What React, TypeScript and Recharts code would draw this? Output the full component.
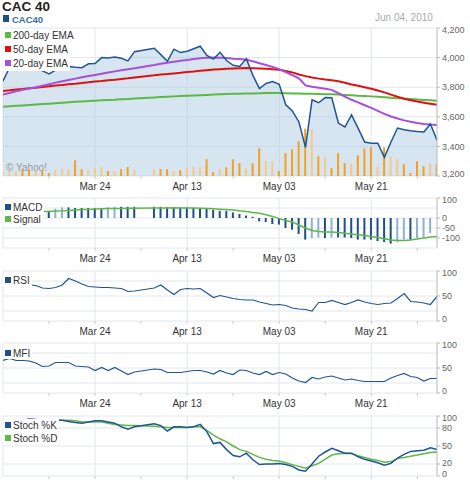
import React from 'react';
import { ComposedChart, Line, Area, Bar, XAxis, YAxis, CartesianGrid, Cell } from 'recharts';

const FONT = '"Liberation Sans", Arial, Helvetica, sans-serif';

// ---- data (one point per weekday, Mar 04 .. Jun 04 2010; holidays null) ----
const price = [3840, 3935, 3945, 3935, 3925, 3930, 3910, 3890, 3915, 3930,
  3940, 3935, 3932, 3958, 3960, 4000, 3998, 4004, 3995, 3978,
  4040, null, null, 4063, 4020, 3975, 4057, 4034, 4043, 4060,
  4077, 4015, 3990, 4036, 3980, 3948, 3940, 3993, 3880, 3790,
  3825, 3838, 3820, 3681, 3640, 3565, 3394, 3715, 3695, 3730,
  3729, 3558, 3531, 3613, 3524, 3430, 3422, 3422, 3326, 3430,
  3524, 3512, 3505, 3500, 3497, 3551, 3442];
const ema200 = [3668, 3671, 3674, 3677, 3680, 3683, 3686, 3689, 3692, 3695,
  3698, 3701, 3704, 3706, 3709, 3711, 3714, 3716, 3719, 3721,
  3724, null, null, 3731, 3734, 3736, 3738, 3740, 3742, 3744,
  3746, 3748, 3750, 3752, 3754, 3755, 3756, 3757, 3758, 3759,
  3760, 3760, 3760, 3759, 3758, 3757, 3755, 3755, 3754, 3753,
  3752, 3750, 3748, 3746, 3743, 3741, 3738, 3735, 3732, 3729,
  3726, 3723, 3720, 3717, 3714, 3711, 3708];
const ema50 = [3775, 3779, 3784, 3788, 3793, 3797, 3802, 3806, 3811, 3815,
  3820, 3824, 3829, 3833, 3838, 3842, 3847, 3851, 3856, 3860,
  3865, null, null, 3880, 3886, 3889, 3893, 3897, 3902, 3906,
  3911, 3915, 3919, 3922, 3925, 3927, 3928, 3929, 3928, 3926,
  3924, 3921, 3918, 3910, 3900, 3886, 3875, 3865, 3858, 3852,
  3847, 3840, 3830, 3818, 3810, 3800, 3790, 3778, 3765, 3750,
  3735, 3722, 3712, 3703, 3695, 3688, 3681];
const ema20 = [3750, 3761, 3772, 3782, 3791, 3800, 3810, 3820, 3831, 3840,
  3849, 3858, 3867, 3875, 3883, 3891, 3899, 3907, 3914, 3921,
  3928, null, null, 3950, 3959, 3965, 3972, 3978, 3984, 3990,
  3996, 3999, 4000, 3999, 3997, 3993, 3990, 3985, 3975, 3962,
  3950, 3937, 3922, 3902, 3882, 3860, 3812, 3803, 3797, 3790,
  3782, 3760, 3737, 3715, 3697, 3678, 3660, 3640, 3620, 3602,
  3588, 3576, 3566, 3558, 3552, 3548, 3545];
const volume = [20, 20, 20, 28, 24, 24, 24, 12, 24, 28,
  28, 64, 28, 24, 32, 36, 20, 20, 28, 36,
  24, null, null, 28, 28, 28, 20, 24, 32, 36,
  36, 68, 16, 28, 36, 68, 52, 32, 52, 112,
  60, 60, 20, 92, 108, 140, 192, 188, 80, 76,
  32, 92, 52, 48, 84, 112, 116, 36, 116, 80,
  68, 48, 12, 60, 40, 52, 48];
const macd = [null, null, null, null, null, null, null, 36, 46, 53,
  53, 50, 50, 50, 50, 50, 53, 56, 56, 56,
  56, null, null, 56, 56, 53, 53, 53, 53, 50,
  50, 46, 41, 36, 36, 28, 20, 12, 6, -17,
  -20, -30, -33, -50, -58, -80, -108, -100, -97, -100,
  -97, -97, -97, -100, -108, -108, -108, -115, -120, -128,
  -120, -108, -108, -100, -96, -75, null];
const signal = [28, 28, 29, 30, 30, 31, 32, 33, 35, 36,
  38, 40, 42, 43, 45, 46, 47, 48, 48, 49,
  49, null, null, 50, 50, 50, 51, 50, 50, 50,
  49, 48, 46, 44, 42, 40, 36, 33, 28, 24,
  16, 8, -3, -12, -20, -35, -50, -62, -68, -70,
  -70, -72, -76, -80, -84, -88, -92, -98, -104, -110,
  -112, -112, -110, -105, -100, -95, -92];
const rsi = [76, 75, 74, 73, 72, 71, 66, 65, 67, 72,
  85, 80, 74, 69, 68, 67, 67, 66, 65, 59,
  60, null, null, 66, 72, 62, 53, 63, 65, 64,
  65, 56, 47, 51, 48, 45, 43, 42, 42, 38,
  35, 32, 33, 31, 26, 24, 23, 20, 37, 37,
  41, 37, 33, 37, 42, 38, 35, 33, 35, 36,
  45, 55, 39, 38, 36, 33, 49];
const mfi = [65, 69, 65, 65, 64, 60, 53, 54, 61, 61,
  61, 54, 53, 52, 45, 51, 45, 51, 44, 37,
  42, null, null, 48, 47, 41, 41, 41, 43, 45,
  45, 42, 38, 45, 40, 37, 46, 45, 40, 37,
  43, 37, 41, 38, 30, 24, 21, 31, 28, 32,
  34, 30, 26, 28, 25, 23, 23, 23, 23, 30,
  35, 39, 33, 31, 24, 29, 29];
const stochK = [86, 90, 92, 93, 95, 94, 93, 93, 93, 93,
  91, 89, 88, 90, 92, 92, 90, 88, 82, 78,
  82, null, null, 87, 84, 75, 82, 82, 81, 82,
  86, 74, 54, 56, 44, 34, 32, 38, 27, 19,
  20, 20, 21, 19, 16, 10, 8, 20, 33, 40,
  46, 42, 38, 38, 32, 28, 25, 22, 18, 21,
  30, 36, 41, 42, 43, 47, 44];
const stochD = [84, 85, 88, 91, 93, 93, 93, 93, 93, 93,
  93, 92, 90, 90, 90, 90, 88, 86, 85, 84,
  84, null, null, 83, 82, 81, 81, 81, 81, 82,
  82, 76, 68, 62, 57, 50, 44, 41, 36, 31,
  28, 26, 25, 22, 19, 16, 13, 17, 21, 28,
  35, 37, 38, 37, 34, 31, 28, 26, 23, 24,
  29, 31, 33, 35, 37, 39, 40];

const majorTickIndex = [14, 28, 42, 56];
const majorTickLabels = ['Mar 24', 'Apr 13', 'May 03', 'May 21'];
const minorTickIndex = [7, 21, 35, 49, 63];
const priceTicks = [3200, 3400, 3600, 3800, 4000, 4200];
const macdTicks = [-100, -50, 0, 100];
const macdGrid = [-150, -100, -50, 0, 50, 100];
const oscTicks = [0, 50, 100];
const stochTicks = [0, 20, 50, 80, 100];
const oscGrid = [0, 20, 50, 80, 100];

// ---- styles ----
const C = {
  blue: '#1f5592',
  green: '#5cb946',
  red: '#dd1111',
  purple: '#a64fd9',
  fill: '#a4c5de',
  volDown: '#f5a01c',
  volUp: '#f6c88a',
  macdDark: '#1d4f8a',
  macdLight: '#8eb1d3',
  grid: '#e2e7ec',
  axis: '#b8b8b8',
};

const rows = price.map((p, i) => ({
  i, price: p, ema200: ema200[i], ema50: ema50[i], ema20: ema20[i], volume: volume[i],
  macd: macd[i], signal: signal[i], rsi: rsi[i], mfi: mfi[i], k: stochK[i], d: stochD[i],
}));

const prevVal = (arr: (number | null)[], i: number) => {
  for (let j = i - 1; j >= 0; j--) if (arr[j] != null) return arr[j] as number;
  return null;
};
const volColors = price.map((p, i) => {
  const pv = prevVal(price, i);
  return p != null && pv != null && p < pv ? C.volDown : C.volUp;
});
const macdColors = macd.map((m, i) => {
  const pv = prevVal(macd, i);
  return m != null && pv != null && m > pv ? C.macdLight : C.macdDark;
});

const allTicks = [...minorTickIndex, ...majorTickIndex].sort((a, b) => a - b);
const xLabel = (v: number) => {
  const k = majorTickIndex.indexOf(v);
  return k >= 0 ? majorTickLabels[k] : '';
};
const comma = (v: number) => v.toLocaleString('en-US');
const plain = (v: number) => String(v);

const makeYTick = (min: number, max: number, fmt: (v: number) => string, nudge: Record<number, number> = {}) => (props: any) => {
  const { x, y, payload } = props;
  const v = payload.value;
  const shift = (v === max ? 2 : v === min ? -2.5 : 0) + (nudge[v] || 0);
  return (
    <text x={x} y={y + shift} dy="0.35em" fontSize={9} fill="#666" fontFamily={FONT} textAnchor="start">
      {fmt(v)}
    </text>
  );
};

const xAxisProps = (showLabels: boolean) => ({
  dataKey: 'i',
  type: 'number' as const,
  domain: [0, 66],
  ticks: allTicks,
  interval: 0 as const,
  tickFormatter: showLabels ? xLabel : () => '',
  axisLine: false,
  tickLine: { stroke: '#c8c8c8' },
  tickSize: 3,
  tickMargin: 4,
  tick: { fontSize: 10, fill: '#333', fontFamily: FONT },
  allowDataOverflow: true,
});

const yAxisProps = (domain: number[], ticks: number[], fmt: (v: number) => string, nudge?: Record<number, number>) => ({
  orientation: 'right' as const,
  domain,
  ticks,
  interval: 0 as const,
  width: 33,
  axisLine: { stroke: C.axis },
  tickLine: { stroke: C.axis },
  tickSize: 3,
  tickMargin: 2,
  allowDataOverflow: true,
  tick: makeYTick(domain[0], domain[1], fmt, nudge),
});

type LegendItem = { label: string; color: string };
function LegendBox({ top, rowH, items }: { top: number; rowH: number; items: LegendItem[] }) {
  return (
    <div style={{ position: 'absolute', left: 3, top, fontFamily: FONT, fontSize: 10, color: '#333', lineHeight: rowH + 'px' }}>
      {items.map((it) => (
        <div key={it.label} style={{ height: rowH, background: '#fff', display: 'table', paddingRight: 2, whiteSpace: 'nowrap' }}>
          <span style={{ display: 'inline-block', width: 6, height: 6, background: it.color, marginLeft: 2, marginRight: 2, verticalAlign: 'middle', position: 'relative', top: -1 }} />
          {it.label}
        </div>
      ))}
    </div>
  );
}

const vGrid = [0, ...majorTickIndex];

export default function App() {
  return (
    <div style={{ position: 'absolute', left: 0, top: 0, width: 470, height: 480, background: '#fff', overflow: 'hidden', fontFamily: FONT }}>
      {/* header */}
      <div style={{ position: 'absolute', left: 2, top: 0.5, fontSize: 13.5, fontWeight: 'bold', color: '#222', lineHeight: '12px' }}>CAC 40</div>
      <div style={{ position: 'absolute', left: 3, top: 15, width: 6, height: 7, background: '#1f4e8a' }} />
      <div style={{ position: 'absolute', left: 12, top: 15, fontSize: 9.5, fontWeight: 'bold', color: '#3a6ea5', lineHeight: '9.5px' }}>CAC40</div>
      <div style={{ position: 'absolute', left: 375, top: 13, fontSize: 10, color: '#aaa', lineHeight: '10px' }}>Jun 04, 2010</div>

      {/* price panel */}
      <div style={{ position: 'absolute', left: 0, top: 0 }}>
        <ComposedChart width={470} height={200} data={rows} margin={{ top: 28, right: 0, left: 3, bottom: 4 }}>
          <CartesianGrid stroke={C.grid} horizontalValues={priceTicks} verticalValues={vGrid} />
          <XAxis {...xAxisProps(true)} height={20} />
          <YAxis {...yAxisProps([3200, 4200], priceTicks, comma)} />
          <YAxis yAxisId="v" hide domain={[0, 600]} />
          <Area dataKey="price" fill={C.fill} fillOpacity={0.45} stroke="none" connectNulls isAnimationActive={false} />
          <Bar yAxisId="v" dataKey="volume" barSize={2} isAnimationActive={false}>
            {rows.map((r) => <Cell key={r.i} fill={volColors[r.i]} />)}
          </Bar>
          <Line dataKey="ema200" stroke={C.green} strokeWidth={2} dot={false} connectNulls isAnimationActive={false} />
          <Line dataKey="ema50" stroke={C.red} strokeWidth={2} dot={false} connectNulls isAnimationActive={false} />
          <Line dataKey="ema20" stroke={C.purple} strokeWidth={2} dot={false} connectNulls isAnimationActive={false} />
          <Line dataKey="price" stroke={C.blue} strokeWidth={1.5} dot={false} connectNulls isAnimationActive={false} />
        </ComposedChart>
      </div>
      <LegendBox top={29} rowH={14} items={[
        { label: '200-day EMA', color: C.green },
        { label: '50-day EMA', color: C.red },
        { label: '20-day EMA', color: C.purple },
      ]} />
      <div style={{ position: 'absolute', left: 6, top: 163, fontSize: 10, color: '#999', lineHeight: '10px' }}>© Yahoo!</div>

      {/* MACD panel */}
      <div style={{ position: 'absolute', left: 0, top: 190 }}>
        <ComposedChart width={470} height={80} data={rows} margin={{ top: 8, right: 0, left: 3, bottom: 2 }}>
          <CartesianGrid stroke={C.grid} horizontalValues={macdGrid} verticalValues={vGrid} />
          <XAxis {...xAxisProps(true)} height={20} />
          <YAxis {...yAxisProps([-150, 100], macdTicks, plain)} />
          <Bar dataKey="macd" barSize={2} isAnimationActive={false}>
            {rows.map((r) => <Cell key={r.i} fill={macdColors[r.i]} />)}
          </Bar>
          <Line dataKey="signal" stroke={C.green} strokeWidth={1.5} dot={false} connectNulls isAnimationActive={false} />
        </ComposedChart>
      </div>
      <LegendBox top={202} rowH={12} items={[
        { label: 'MACD', color: C.macdDark },
        { label: 'Signal', color: C.green },
      ]} />

      {/* RSI panel */}
      <div style={{ position: 'absolute', left: 0, top: 263 }}>
        <ComposedChart width={470} height={80} data={rows} margin={{ top: 8, right: 0, left: 3, bottom: 2 }}>
          <CartesianGrid stroke={C.grid} horizontalValues={oscGrid} verticalValues={vGrid} />
          <XAxis {...xAxisProps(true)} height={20} />
          <YAxis {...yAxisProps([0, 100], oscTicks, plain)} />
          <Line dataKey="rsi" stroke={C.blue} strokeWidth={1.2} dot={false} connectNulls isAnimationActive={false} />
        </ComposedChart>
      </div>
      <LegendBox top={275} rowH={12} items={[{ label: 'RSI', color: C.macdDark }]} />

      {/* MFI panel */}
      <div style={{ position: 'absolute', left: 0, top: 335 }}>
        <ComposedChart width={470} height={80} data={rows} margin={{ top: 8, right: 0, left: 3, bottom: 2 }}>
          <CartesianGrid stroke={C.grid} horizontalValues={oscGrid} verticalValues={vGrid} />
          <XAxis {...xAxisProps(true)} height={20} />
          <YAxis {...yAxisProps([0, 100], oscTicks, plain)} />
          <Line dataKey="mfi" stroke={C.blue} strokeWidth={1.2} dot={false} connectNulls isAnimationActive={false} />
        </ComposedChart>
      </div>
      <LegendBox top={348} rowH={11} items={[{ label: 'MFI', color: C.macdDark }]} />

      {/* Stochastic panel */}
      <div style={{ position: 'absolute', left: 0, top: 408 }}>
        <ComposedChart width={470} height={72} data={rows} margin={{ top: 8, right: 0, left: 3, bottom: 0 }}>
          <CartesianGrid stroke={C.grid} horizontalValues={oscGrid} verticalValues={vGrid} />
          <XAxis {...xAxisProps(false)} height={4} />
          <YAxis {...yAxisProps([0, 100], stochTicks, plain, { 20: -1 })} />
          <Line dataKey="d" stroke={C.green} strokeWidth={1.5} dot={false} connectNulls isAnimationActive={false} />
          <Line dataKey="k" stroke={C.blue} strokeWidth={1.5} dot={false} connectNulls isAnimationActive={false} />
        </ComposedChart>
      </div>
      <LegendBox top={419} rowH={13} items={[
        { label: 'Stoch %K', color: C.blue },
        { label: 'Stoch %D', color: C.green },
      ]} />
    </div>
  );
}
